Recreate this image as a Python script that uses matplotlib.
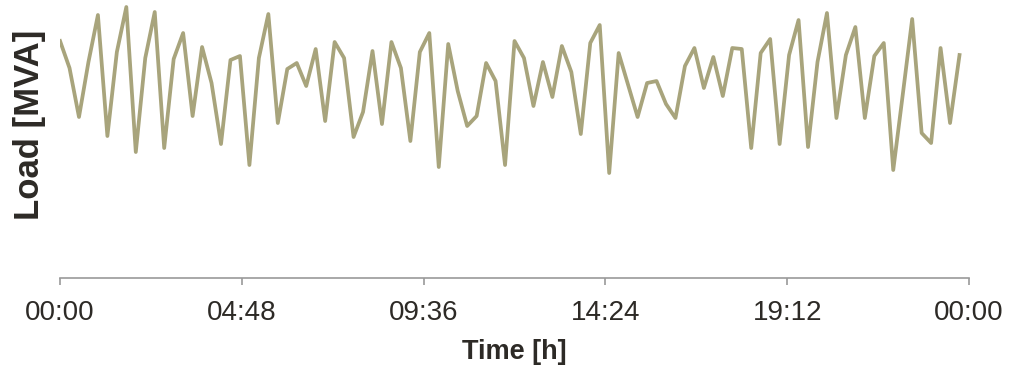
import matplotlib.pyplot as plt
import numpy as np

# 15-minute load profile (96 values, MVA)
load = [
	23.7, 21.0, 16.1, 21.6, 26.3, 14.2, 22.6, 27.1, 12.6, 22.0, 26.6, 13.0, 21.9, 24.5, 16.2, 23.1,
	19.5, 13.4, 21.8, 22.2, 11.3, 22.0, 26.4, 15.5, 20.9, 21.5, 19.2, 22.9, 15.7, 23.6, 22.0, 14.1,
	16.6, 22.7, 15.4, 23.6, 21.0, 13.7, 22.6, 24.5, 11.1, 23.4, 18.7, 15.2, 16.2, 21.5, 19.7, 11.3,
	23.7, 22.0, 17.2, 21.6, 18.1, 23.2, 20.6, 14.4, 23.5, 25.3, 10.5, 22.5, 19.3, 16.1, 19.5, 19.7,
	17.4, 16.0, 21.2, 23.0, 19.0, 22.1, 18.2, 23.0, 22.9, 13.0, 22.5, 23.9, 13.4, 22.3, 25.8, 13.1,
	21.6, 26.5, 16.0, 22.3, 25.1, 16.0, 22.2, 23.5, 10.8, 18.3, 25.9, 14.5, 13.5, 23.0, 15.5, 22.3,
]
tick_hours = [0, 4.8, 9.6, 14.4, 19.2, 24]
tick_labels = ["00:00", "04:48", "09:36", "14:24", "19:12", "00:00"]

hours = np.arange(len(load)) * 0.25

fig = plt.figure(figsize=(10.23, 3.66), dpi=100)
ax = fig.add_axes([0.0587, 0.2404, 0.8885, 0.7459])

ax.plot(hours, load, color="#a8a47c", linewidth=2.7)

ax.set_xlim(0, 24)
ax.set_ylim(0, 27.3)
ax.set_xticks(tick_hours)
ax.set_xticklabels(tick_labels)
ax.set_yticks([])

for side in ["top", "right", "left"]:
	ax.spines[side].set_visible(False)
ax.spines["bottom"].set_color("#9a9a9a")
ax.spines["bottom"].set_linewidth(1.2)
ax.tick_params(axis="x", direction="out", length=5, width=1.2, color="#9a9a9a",
	labelsize=20, labelcolor="#2d2a26", pad=11)
for lbl in ax.get_xticklabels():
	lbl.set_family("Liberation Sans")

ax.set_xlabel("Time [h]", fontsize=19.5, fontweight="bold", color="#2d2a26",
	family="Liberation Sans", labelpad=9)
ax.set_ylabel("Load [MVA]", fontsize=25, fontweight="bold", color="#2d2a26",
	family="Liberation Sans")
ax.yaxis.set_label_coords(-0.015, 0.56)

plt.savefig("out.png", dpi=100)
plt.close(fig)
